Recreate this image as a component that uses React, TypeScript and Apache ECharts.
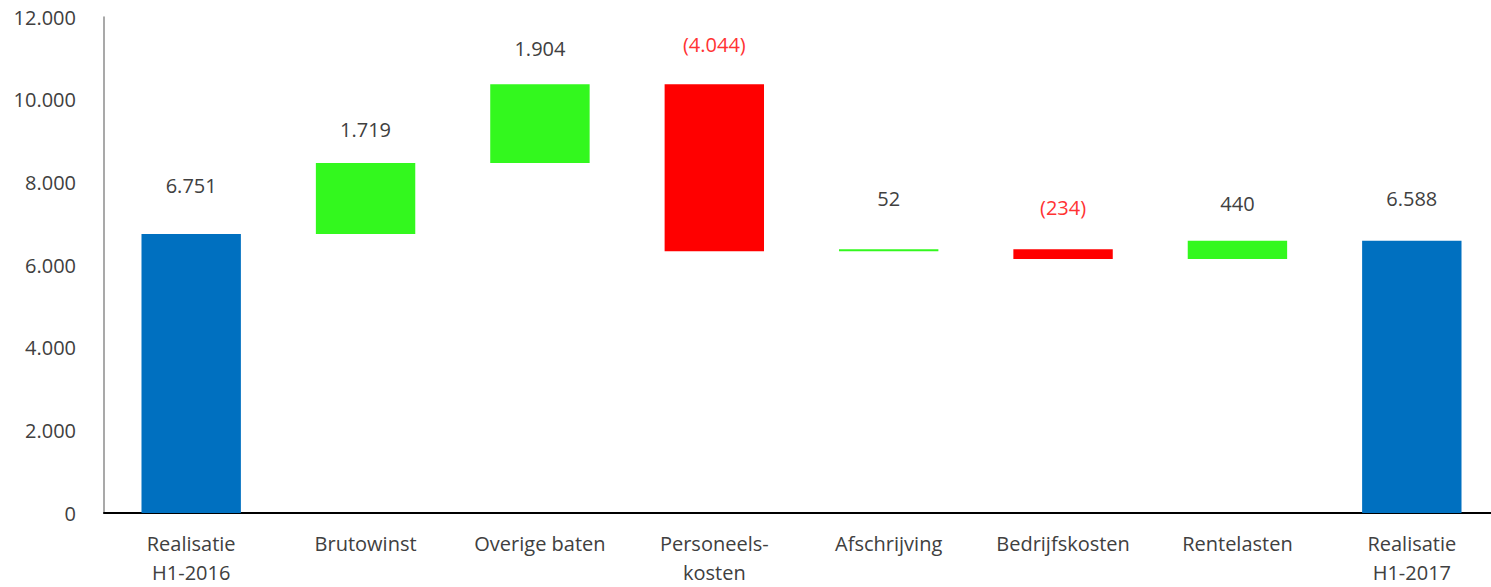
import React, { useEffect, useRef } from "react";
import * as echarts from "echarts";

const categories = [
  "Realisatie\nH1-2016",
  "Brutowinst",
  "Overige baten",
  "Personeels-\nkosten",
  "Afschrijving",
  "Bedrijfskosten",
  "Rentelasten",
  "Realisatie\nH1-2017",
];
// totals (null for deltas) and deltas (null for totals)
const totals: (number | null)[] = [6751, null, null, null, null, null, null, 6588];
const deltas: (number | null)[] = [null, 1719, 1904, -4044, 52, -234, 440, null];
const yTicks = [0, 2000, 4000, 6000, 8000, 10000, 12000];

const BLUE = "#0070C0";
const GREEN = "#33F81E";
const RED = "#FF0000";
const LABEL_RED = "#FF3333";
const TEXT = "#404040";
const FONT = "Open Sans";
const labelDistances = [38, 23, 26, 30, 41, 32, 27, 32];

function fmt(v: number): string {
  const s = Math.abs(v).toString().replace(/\B(?=(\d{3})+(?!\d))/g, ".");
  return v < 0 ? `(${s})` : s;
}

export default function App() {
  const ref = useRef<HTMLDivElement>(null);
  useEffect(() => {
    if (!ref.current) return;
    const chart = echarts.init(ref.current, undefined, { renderer: "svg" });
    const base: number[] = [];
    const vis: any[] = [];
    let running = 0;
    categories.forEach((_, i) => {
      const t = totals[i];
      const d = deltas[i];
      if (t !== null) {
        running = t;
        base.push(0);
        vis.push({
          value: t,
          itemStyle: { color: BLUE },
          label: { distance: labelDistances[i], formatter: fmt(t), color: TEXT },
        });
      } else if (d !== null) {
        const start = running;
        const end = running + d;
        running = end;
        base.push(Math.min(start, end));
        vis.push({
          value: Math.abs(d),
          itemStyle: { color: d >= 0 ? GREEN : RED },
          label: {
            distance: labelDistances[i],
            formatter: fmt(d),
            color: d >= 0 ? TEXT : LABEL_RED,
          },
        });
      }
    });
    chart.setOption({
      animation: false,
      grid: { left: 104, right: 0, top: 17, bottom: 72, containLabel: false },
      xAxis: {
        type: "category",
        data: categories,
        axisLine: { lineStyle: { color: "#000", width: 2 } },
        axisTick: { show: false },
        axisLabel: {
          color: TEXT,
          fontFamily: FONT,
          fontSize: 20,
          lineHeight: 29,
          margin: 16,
          interval: 0,
        },
      },
      yAxis: {
        type: "value",
        min: yTicks[0],
        max: yTicks[yTicks.length - 1],
        interval: 2000,
        splitLine: { show: false },
        axisLine: { show: true, lineStyle: { color: "#8c8c8c", width: 1.5 } },
        axisTick: { show: false },
        axisLabel: {
          color: TEXT,
          fontFamily: FONT,
          fontSize: 20,
          margin: 28,
          formatter: (v: number) => fmt(v),
        },
      },
      series: [
        {
          type: "bar",
          stack: "w",
          data: base,
          itemStyle: { color: "transparent" },
          silent: true,
          barWidth: "57%",
        },
        {
          type: "bar",
          stack: "w",
          data: vis,
          barWidth: "57%",
          label: {
            show: true,
            position: "top",
            fontFamily: FONT,
            fontSize: 20,
          },
        },
      ],
    });
    return () => chart.dispose();
  }, []);
  return (
    <div
      style={{ position: "fixed", left: 0, top: 0, width: 1491, height: 587, overflow: "hidden", background: "#fff" }}
    >
      <div ref={ref} style={{ width: 1499, height: 587 }} />
    </div>
  );
}
